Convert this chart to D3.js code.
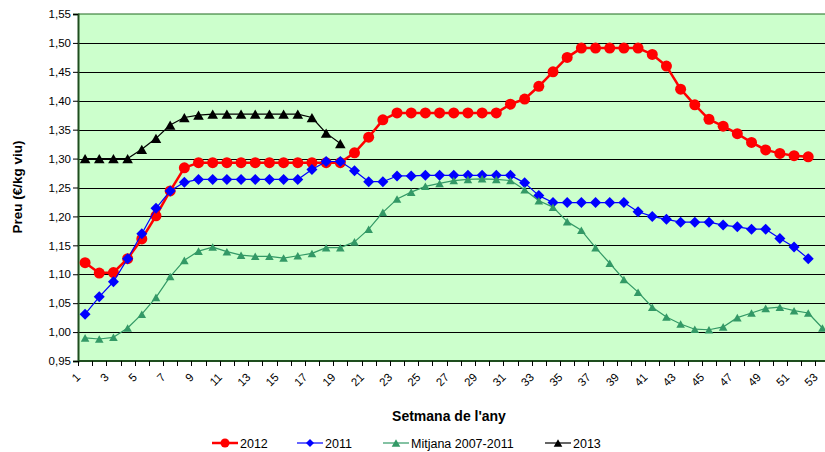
<!DOCTYPE html>
<html>
<head>
<meta charset="utf-8">
<script src="https://cdn.jsdelivr.net/npm/d3@7"></script>
<style>
  html, body { margin: 0; padding: 0; background: #ffffff; }
  svg { display: block; font-family: "Liberation Sans", Arial, sans-serif; }
</style>
</head>
<body>
<svg id="chart" width="825" height="452"></svg>
<script>
// Weekly live-weight price (€/kg viu)
const weeks = d3.range(1, 54);
const yTicks = [0.95, 1.00, 1.05, 1.10, 1.15, 1.20, 1.25, 1.30, 1.35, 1.40, 1.45, 1.50, 1.55];

const s2012 = [1.120, 1.102, 1.103, 1.127, 1.161, 1.201, 1.244, 1.284,
  1.293, 1.293, 1.293, 1.293, 1.293, 1.293, 1.293, 1.293, 1.293, 1.293, 1.293,
  1.310, 1.337, 1.367, 1.379,
  1.379, 1.379, 1.379, 1.379, 1.379, 1.379, 1.379,
  1.394, 1.403, 1.425, 1.450, 1.475,
  1.491, 1.491, 1.491, 1.491, 1.491,
  1.480, 1.460, 1.420, 1.393, 1.368, 1.356, 1.343, 1.328, 1.315, 1.309, 1.305, 1.303];

const s2011 = [1.031, 1.061, 1.087, 1.127, 1.170, 1.214, 1.244, 1.259,
  1.264, 1.264, 1.264, 1.264, 1.264, 1.264, 1.264, 1.264,
  1.281, 1.295, 1.295, 1.279, 1.260, 1.260, 1.270, 1.270,
  1.271, 1.271, 1.271, 1.271, 1.271, 1.271, 1.271,
  1.258, 1.236,
  1.224, 1.224, 1.224, 1.224, 1.224, 1.224,
  1.208, 1.200, 1.195, 1.190, 1.190, 1.190, 1.185, 1.182, 1.178, 1.178, 1.162, 1.147, 1.127];

const mitjana = [0.990, 0.988, 0.991, 1.007, 1.031, 1.060, 1.096, 1.124, 1.140, 1.147,
  1.139, 1.133, 1.131, 1.131, 1.128, 1.132, 1.136, 1.146, 1.146, 1.156,
  1.178, 1.207, 1.230, 1.242, 1.252, 1.257, 1.262, 1.264, 1.265, 1.264,
  1.262, 1.246, 1.227, 1.216, 1.191, 1.176, 1.146, 1.119, 1.091, 1.069,
  1.043, 1.026, 1.014, 1.005, 1.004, 1.009, 1.025, 1.033, 1.041, 1.043,
  1.037, 1.033, 1.007];

const s2013 = [1.300, 1.300, 1.300, 1.300, 1.316, 1.335, 1.358, 1.371, 1.375,
  1.377, 1.377, 1.377, 1.377, 1.377, 1.377, 1.377,
  1.371, 1.344, 1.326];

const series = [
  { name: "2012", values: s2012, color: "#FF0000", width: 2.5, marker: "circle", size: 5.5 },
  { name: "2011", values: s2011, color: "#0000FF", width: 1.2, marker: "diamond", size: 5.5 },
  { name: "Mitjana 2007-2011", values: mitjana, color: "#339966", width: 1.2, marker: "triangle", size: 4.3 },
  { name: "2013", values: s2013, color: "#000000", width: 1.2, marker: "triangle", size: 5.3 }
];

const svg = d3.select("#chart");
const plot = { left: 78, right: 829.5, top: 14, bottom: 361 };

const x = d3.scaleBand().domain(weeks).range([plot.left, plot.right]).paddingInner(0).paddingOuter(0);
const y = d3.scaleLinear().domain([0.95, 1.55]).range([plot.bottom, plot.top]);
const cx = w => x(w) + x.bandwidth() / 2;

// Plot background
svg.append("rect")
  .attr("x", plot.left).attr("y", plot.top)
  .attr("width", plot.right - plot.left).attr("height", plot.bottom - plot.top)
  .attr("fill", "#CCFFCC");

// Horizontal gridlines
svg.append("g")
  .selectAll("line")
  .data(yTicks.filter(t => t > 0.951 && t < 1.549))
  .join("line")
  .attr("x1", plot.left).attr("x2", plot.right)
  .attr("y1", d => Math.round(y(d)) + 0.5).attr("y2", d => Math.round(y(d)) + 0.5)
  .attr("stroke", "#000000").attr("stroke-width", 1);

// Top border of the plot area
svg.append("line")
  .attr("x1", plot.left).attr("x2", plot.right)
  .attr("y1", plot.top).attr("y2", plot.top)
  .attr("stroke", "#1E6B1E").attr("stroke-width", 1.2);

// Y axis
const yAxis = d3.axisLeft(y).tickValues(yTicks).tickSize(5)
  .tickFormat(d => d3.format(".2f")(d).replace(".", ","));
const gy = svg.append("g").attr("transform", `translate(${plot.left},0)`).call(yAxis);
gy.select(".domain").attr("stroke", "#1E4D1E").attr("stroke-width", 2);
gy.selectAll(".tick line").attr("stroke", "#000000");
gy.selectAll(".tick text").attr("font-size", 11.5).attr("fill", "#000").attr("x", -7)
  .style("font-family", "'Liberation Sans', Arial, sans-serif");

// X axis (category ticks at band boundaries)
const gx = svg.append("g").attr("transform", `translate(0,${plot.bottom})`);
gx.append("line")
  .attr("x1", plot.left).attr("x2", plot.right).attr("y1", 0).attr("y2", 0)
  .attr("stroke", "#1E4D1E").attr("stroke-width", 2);
gx.selectAll("line.tk")
  .data(weeks)
  .join("line").attr("class", "tk")
  .attr("x1", d => Math.round(x(d)) + 0.5).attr("x2", d => Math.round(x(d)) + 0.5)
  .attr("y1", 0).attr("y2", 5)
  .attr("stroke", "#000000");
gx.selectAll("text")
  .data(weeks.filter(w => w % 2 === 1))
  .join("text")
  .attr("transform", d => `translate(${cx(d) - 4},${17}) rotate(-45)`)
  .attr("text-anchor", "end")
  .attr("font-size", 11.5)
  .attr("fill", "#000")
  .text(d => d);

// Axis titles
svg.append("text")
  .attr("transform", "translate(22,187) rotate(-90)")
  .attr("text-anchor", "middle")
  .attr("font-size", 13.5).attr("font-weight", "bold")
  .text("Preu (€/kg viu)");
svg.append("text")
  .attr("x", 449).attr("y", 421)
  .attr("text-anchor", "middle")
  .attr("font-size", 14).attr("font-weight", "bold")
  .text("Setmana de l'any");

// Marker shapes
function markerPath(type, r) {
  if (type === "circle") return d3.symbol(d3.symbolCircle, Math.PI * r * r)();
  if (type === "diamond") return `M0,${-r}L${r},0L0,${r}L${-r},0Z`;
  // triangle centred on its bounding box
  const h = r * 1.75;
  return `M0,${-h / 2}L${r},${h / 2}L${-r},${h / 2}Z`;
}

// Series lines and markers
const line = d3.line().x((d, i) => cx(weeks[i])).y(d => y(d));
series.forEach(s => {
  const g = svg.append("g");
  g.append("path")
    .attr("d", line(s.values))
    .attr("fill", "none")
    .attr("stroke", s.color)
    .attr("stroke-width", s.width)
    .attr("stroke-linejoin", "round");
  g.selectAll("path.m")
    .data(s.values)
    .join("path").attr("class", "m")
    .attr("d", markerPath(s.marker, s.size))
    .attr("transform", (d, i) => `translate(${cx(weeks[i])},${y(d)})`)
    .attr("fill", s.color);
});

// Legend
const legendItems = [
  { s: series[0], x: 212 },
  { s: series[1], x: 297 },
  { s: series[2], x: 383 },
  { s: series[3], x: 545 }
];
const ly = 443;
legendItems.forEach(({ s, x: lx }) => {
  const g = svg.append("g").attr("transform", `translate(${lx},${ly})`);
  g.append("line").attr("x1", 0).attr("x2", 26).attr("y1", 0).attr("y2", 0)
    .attr("stroke", s.color).attr("stroke-width", s.name === "2012" ? 2.5 : 1.2);
  const legSize = s.marker === "circle" ? 4.5 : (s.marker === "diamond" ? 4 : 4.3);
  g.append("path").attr("d", markerPath(s.marker, legSize))
    .attr("transform", "translate(13,0)").attr("fill", s.color);
  g.append("text").attr("x", 28).attr("y", 4.5)
    .attr("font-size", 12.5).attr("fill", "#000")
    .text(s.name);
});
</script>
</body>
</html>
